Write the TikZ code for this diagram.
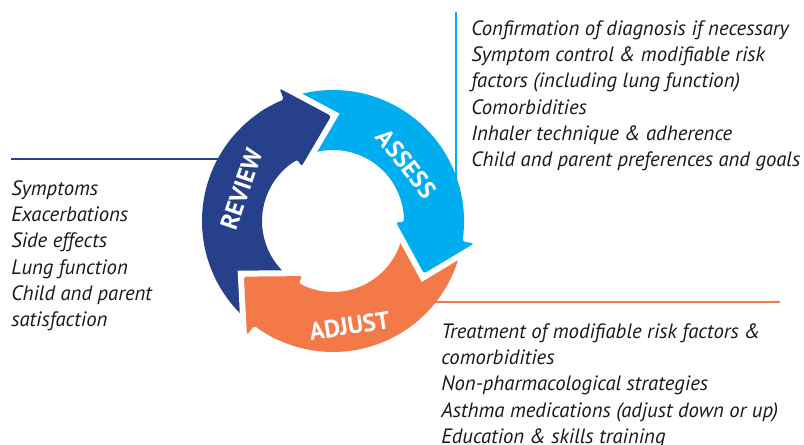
\documentclass[tikz,border=0pt]{standalone}
\usepackage{fontspec}
\setmainfont{PT Sans}
\usetikzlibrary{calc}

\definecolor{revblue}{RGB}{39,64,139}
\definecolor{asscyan}{RGB}{0,174,239}
\definecolor{adjorange}{RGB}{244,121,73}

\tikzset{
  notes/.style={anchor=north west, inner sep=0pt, align=left,
    font=\fontsize{11.8}{15}\selectfont\itshape, text=black!90},
  phase/.style={text=white, inner sep=0pt, font=\fontsize{14}{14}\selectfont\bfseries},
  leader/.style={line width=1.4pt}
}

\begin{document}
\begin{tikzpicture}[x=0.02cm,y=0.02cm]
  \useasboundingbox (0,0) rectangle (804,445);

  \coordinate (revA) at (11,286);
  \coordinate (revB) at (235,286);
  \coordinate (assA) at (456,433);
  \coordinate (assB) at (456,255);
  \coordinate (adjA) at (425,143);
  \coordinate (adjB) at (780,143);
  \draw[leader,revblue] (revA) -- (revB);
  \draw[leader,asscyan] (assA) -- (assB);
  \draw[leader,adjorange] (adjA) -- (adjB);

  \begin{scope}[shift={(333,224)}]
    \foreach \col/\a/\b in {revblue/234/121, asscyan/113/0, adjorange/-8/-118}
      \fill[\col] (\a:131) arc[start angle=\a, end angle=\b, radius=131]
        -- (\b:71) arc[start angle=\b, end angle=\a, radius=71] -- cycle;

    \foreach \col/\tip in {revblue/91, asscyan/-30, adjorange/-148} {
      \draw[white, line width=0.24cm]
        ($(\tip:105)!1.15!({\tip+21}:143)$) -- (\tip:105)
        -- ($(\tip:105)!1.15!({\tip+29}:63)$);
      \fill[\col, rounded corners=1.5pt] ({\tip+34}:131)
        arc[start angle=\tip+34, end angle=\tip+21, radius=131]
        -- ({\tip+21}:143) -- (\tip:105) -- ({\tip+29}:63) -- ({\tip+29}:71)
        arc[start angle=\tip+29, end angle=\tip+34, radius=71] -- cycle;
    }

    \node[phase, rotate=71] (revlbl) at (161:97) {REVIEW};
    \node[phase, rotate=-52] (asslbl) at (38:93) {ASSESS};
    \node[phase, rotate=9] (adjlbl) at (279:106) {ADJUST};
  \end{scope}

  \node[notes] (revnotes) at (11,265) {Symptoms\\Exacerbations\\Side effects\\Lung function\\Child and parent\\satisfaction};
  \node[notes] (assnotes) at (471,425) {Confirmation of diagnosis if necessary\\Symptom control \& modifiable risk\\factors (including lung function)\\Comorbidities\\Inhaler technique \& adherence\\Child and parent preferences and goals};
  \node[notes] (adjnotes) at (441,122) {Treatment of modifiable risk factors \&\\comorbidities\\Non-pharmacological strategies\\Asthma medications (adjust down or up)\\Education \& skills training};
\end{tikzpicture}
\end{document}
